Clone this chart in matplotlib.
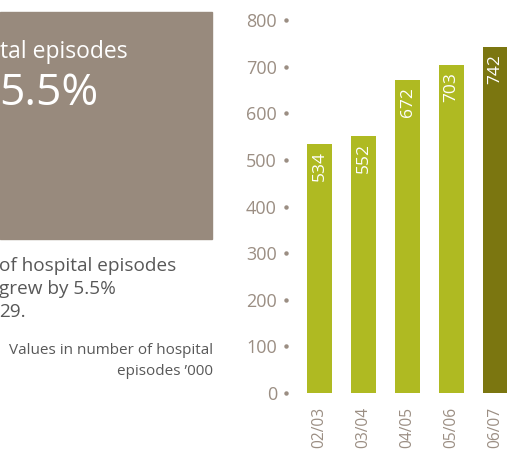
import matplotlib
matplotlib.use("Agg")
from matplotlib import pyplot as plt
from matplotlib.patches import Rectangle
import matplotlib.transforms as mtransforms

plt.rcParams['font.family'] = ['Open Sans', 'DejaVu Sans']

years = ["02/03", "03/04", "04/05", "05/06", "06/07"]
episodes = [534, 552, 672, 703, 742]
highlight = [False, False, False, False, True]

green = '#afba22'
olive = '#7b7610'
taupe = '#988a7d'
label_col = '#9b8e83'
text_col = '#585858'

W, H = 507, 450
fig = plt.figure(figsize=(W / 100, H / 100), dpi=100)


def px(x, y):
    # pixel position (from top left) to figure fraction
    return x / W, 1 - y / H


# brown box on the left
fig.patches.append(Rectangle(px(0, 239), 212 / W, 227 / H, transform=fig.transFigure,
                             color=taupe, zorder=0))
fig.text(*px(0, 58), "tal episodes", color='white', fontsize=16.5, va='baseline')
fig.text(*px(-1, 105), "5.5%", color='white', fontsize=32, va='baseline')

body = ["of hospital episodes", "grew by 5.5%", "29."]
for i, line in enumerate(body):
    fig.text(*px(-1, 271 + 23 * i), line, color=text_col, fontsize=13.7, va='baseline')

fig.text(*px(213, 375), "Values in number of hospital\nepisodes \u2019000", color=text_col,
         fontsize=11, ha='right', va='baseline', linespacing=1.5, ma='right')

# bar chart
ax = fig.add_axes([296 / W, (H - 393) / H, (W - 296) / W, 373 / H])
x = list(range(len(years)))
cols = [olive if h else green for h in highlight]
ax.bar(x, episodes, width=0.57, color=cols)
ax.set_xlim(-0.534, 4.26)
ax.set_ylim(0, 800)

for i, v in enumerate(episodes):
    ax.annotate(str(v), (i, v), xytext=(0, -7), textcoords='offset pixels',
                rotation=90, ha='center', va='top', color='white', fontsize=12.5)

yt = list(range(0, 801, 100))
ax.set_yticks(yt)
ax.set_yticklabels([str(t) for t in yt])
ax.set_xticks(x)
ax.set_xticklabels(years, rotation=90)
ax.tick_params(axis='y', length=0, pad=13.7, labelsize=13, labelcolor=label_col)
ax.tick_params(axis='x', length=0, pad=10.3, labelsize=11.2, labelcolor=label_col)

# little dots beside the y ticks
trans = mtransforms.blended_transform_factory(ax.transAxes, ax.transData)
ax.plot([-0.047] * len(yt), yt, 'o', ms=2.2, color=label_col, transform=trans, clip_on=False)

for s in ax.spines.values():
    s.set_visible(False)
ax.patch.set_alpha(0)

plt.savefig('out.png', dpi=100)
